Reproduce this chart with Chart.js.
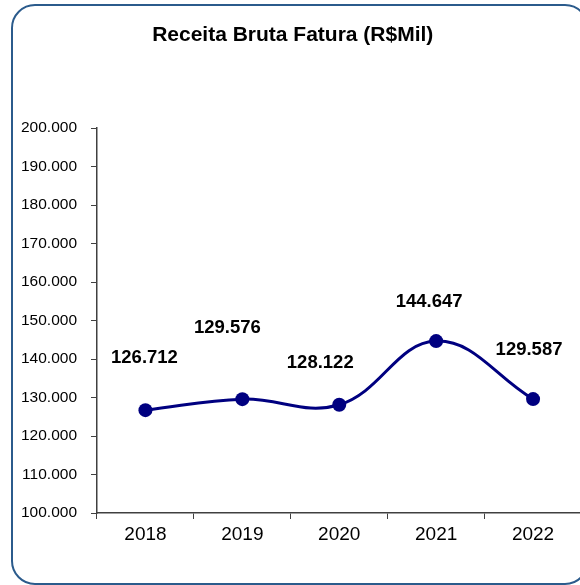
<!DOCTYPE html>
<html>
<head>
<meta charset="utf-8">
<script src="https://cdn.jsdelivr.net/npm/chart.js@4"></script>
<style>
  html, body { margin: 0; padding: 0; background: #fff; overflow: hidden; }
  #wrap { position: relative; width: 580px; height: 585px; overflow: hidden; }
  #chart { position: absolute; left: 0; top: 0; }
  #frame {
    position: absolute; left: 11px; top: 4px; width: 574px; height: 577px;
    border: 2px solid #2b5b8c; border-radius: 24px; pointer-events: none;
  }
</style>
</head>
<body>
<div id="wrap">
  <canvas id="chart" width="590" height="585"></canvas>
  <div id="frame"></div>
</div>
<script>
// ********** data ************
const years = ["2018", "2019", "2020", "2021", "2022"];
const receita = [126712, 129576, 128122, 144647, 129587];
const yMin = 100000;
const yMax = 200000;
const yStep = 10000;

// label offsets (dx, dy) from each point, as placed in the original
const labelOffsets = [[-1, -52], [-15, -71], [-19, -42], [-7, -39], [-4, -49]];

const FONT = "'Liberation Sans', Arial, sans-serif";

// 126712 -> "126.712"
function fmt(v) {
  return String(v).replace(/\B(?=(\d{3})+(?!\d))/g, ".");
}

// ********** value labels ************
const valueLabels = {
  id: "valueLabels",
  afterDatasetsDraw(chart) {
    const ctx = chart.ctx;
    const meta = chart.getDatasetMeta(0);
    ctx.save();
    ctx.font = "bold 18.5px " + FONT;
    ctx.fillStyle = "#000";
    ctx.textAlign = "center";
    ctx.textBaseline = "middle";
    meta.data.forEach((pt, i) => {
      const off = labelOffsets[i];
      ctx.fillText(fmt(receita[i]), pt.x + off[0], pt.y + off[1]);
    });
    ctx.restore();
  },
};

const ctx = document.getElementById("chart");
const myChart = new Chart(ctx, {
  type: "line",
  data: {
    labels: years,
    datasets: [
      {
        data: receita,
        borderColor: "#000080",
        backgroundColor: "#000080",
        borderWidth: 3,
        pointRadius: 7,
        pointBackgroundColor: "#000080",
        pointBorderWidth: 0,
        tension: 0.4,
        fill: false,
      },
    ],
  },
  options: {
    responsive: false,
    animation: false,
    layout: { padding: { left: 4, right: 8.5, top: 0, bottom: 0 } },
    plugins: {
      legend: { display: false },
      tooltip: { enabled: false },
      title: {
        display: true,
        text: "Receita Bruta Fatura (R$Mil)",
        color: "#000",
        font: { family: FONT, size: 21, weight: "bold", lineHeight: 1.2 },
        padding: { top: 22.7, bottom: 80.1 },
      },
    },
    scales: {
      x: {
        offset: true,
        grid: { drawOnChartArea: false, drawTicks: true, tickLength: 6, color: "#404040", offset: true },
        border: { color: "#404040", width: 1.5 },
        ticks: {
          color: "#000",
          padding: 4.5,
          font: { family: FONT, size: 19 },
        },
        afterFit(scale) {
          scale.height = 72;
        },
      },
      y: {
        min: yMin,
        max: yMax,
        grid: { drawOnChartArea: false, drawTicks: true, tickLength: 6, color: "#404040" },
        border: { color: "#404040", width: 1.5 },
        ticks: {
          stepSize: yStep,
          color: "#000",
          padding: 14,
          font: { family: FONT, size: 15.5 },
          callback: (v) => fmt(v),
        },
        afterFit(scale) {
          scale.width = 93;
        },
      },
    },
  },
  plugins: [valueLabels],
});
</script>
</body>
</html>
